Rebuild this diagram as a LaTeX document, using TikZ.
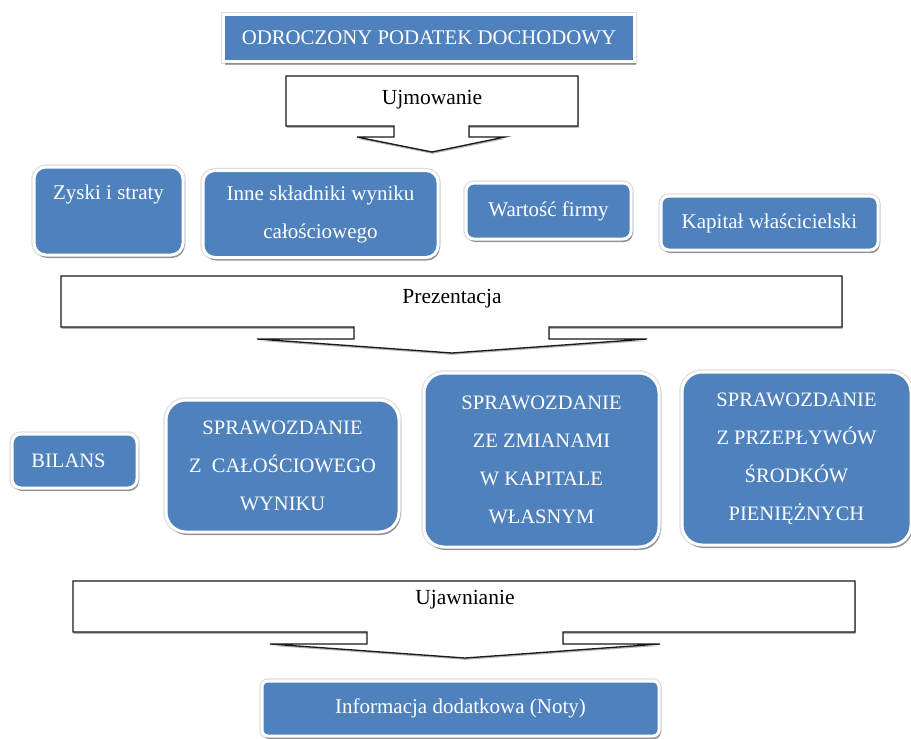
\documentclass[tikz,border=0pt]{standalone}
\usepackage{fontspec}
\setmainfont{Liberation Serif}
\usetikzlibrary{shadows}
\definecolor{ofblue}{RGB}{79,129,189}
\tikzset{
  bluebox/.style={fill=ofblue, draw=white, line width=3pt, text=white, align=center,
    inner sep=0pt, font=\rmfamily\fontsize{21}{38}\selectfont,
    preaction={draw=black!13, line width=5.5pt},
    drop shadow={shadow xshift=1.5pt, shadow yshift=-3pt, opacity=0.35, fill=black}},
  rowtwo/.style={font=\rmfamily\fontsize{20.5}{38}\selectfont},
  callout/.style={draw=black!90, line width=1.3pt, fill=white, line join=miter,
    drop shadow={shadow xshift=0.5pt, shadow yshift=-1.8pt, opacity=0.3, fill=black}},
  calltext/.style={inner sep=0pt, font=\rmfamily\fontsize{21.5}{26}\selectfont, text=black}
}
\begin{document}
\begin{tikzpicture}[x=1pt,y=-1pt]
\useasboundingbox[fill=white] (0,0) rectangle (911,739);

% title
\node[bluebox, rounded corners=0pt, minimum width=411pt, minimum height=47pt,
  font=\rmfamily\fontsize{20.8}{24}\selectfont] (title) at (429,38) {ODROCZONY PODATEK DOCHODOWY};

% Ujmowanie
\draw[callout] (286,76) -- (578,76) -- (578,126) -- (469,126) -- (469,137) -- (505,137)
  -- (432,152) -- (357,137) -- (394,137) -- (394,126) -- (286,126) -- cycle;
\node[calltext] (ujm) at (432,100) {Ujmowanie};

% row 1
\node[bluebox, rounded corners=12pt, minimum width=149pt, minimum height=88pt] (zyski)
  at (108.5,211) {Zyski i straty\\\mbox{}};
\node[bluebox, rounded corners=12pt, minimum width=235pt, minimum height=87pt] (inne)
  at (320.5,214) {Inne składniki wyniku\\całościowego};
\node[bluebox, rounded corners=8pt, minimum width=165pt, minimum height=56pt] (wart)
  at (548.5,211) {Wartość firmy};
\node[bluebox, rounded corners=8pt, minimum width=217pt, minimum height=54pt] (kap)
  at (769.5,223) {Kapitał właścicielski};

% Prezentacja
\draw[callout] (61,276) -- (842,276) -- (842,327) -- (549,327) -- (549,339) -- (647,339)
  -- (452,353) -- (257,339) -- (354,339) -- (354,327) -- (61,327) -- cycle;
\node[calltext] (prez) at (452,299) {Prezentacja};

% row 2
\node[bluebox, rowtwo, rounded corners=9pt, minimum width=125pt, minimum height=54pt] (bilans)
  at (74.5,461) {BILANS\hspace{12pt}};
\node[bluebox, rowtwo, rounded corners=20pt, minimum width=233pt, minimum height=132pt] (scw)
  at (282.5,466) {SPRAWOZDANIE\\Z\ \ CAŁOŚCIOWEGO\\WYNIKU};
\node[bluebox, rowtwo, rounded corners=20pt, minimum width=235pt, minimum height=174pt] (szk)
  at (541.5,460) {SPRAWOZDANIE\\ZE ZMIANAMI\\W KAPITALE\\WŁASNYM};
\node[bluebox, rowtwo, rounded corners=20pt, minimum width=229pt, minimum height=173pt] (spp)
  at (796.5,458.5) {SPRAWOZDANIE\\Z PRZEPŁYWÓW\\ŚRODKÓW\\PIENIĘŻNYCH};

% Ujawnianie
\draw[callout] (73,581) -- (855,581) -- (855,632) -- (563,632) -- (563,644) -- (660,644)
  -- (465,658) -- (270,644) -- (367,644) -- (367,632) -- (73,632) -- cycle;
\node[calltext] (ujaw) at (465,600) {Ujawnianie};

% info
\node[bluebox, rounded corners=6pt, minimum width=397pt, minimum height=55pt] (info)
  at (460.5,708.5) {Informacja dodatkowa (Noty)};
\end{tikzpicture}
\end{document}
